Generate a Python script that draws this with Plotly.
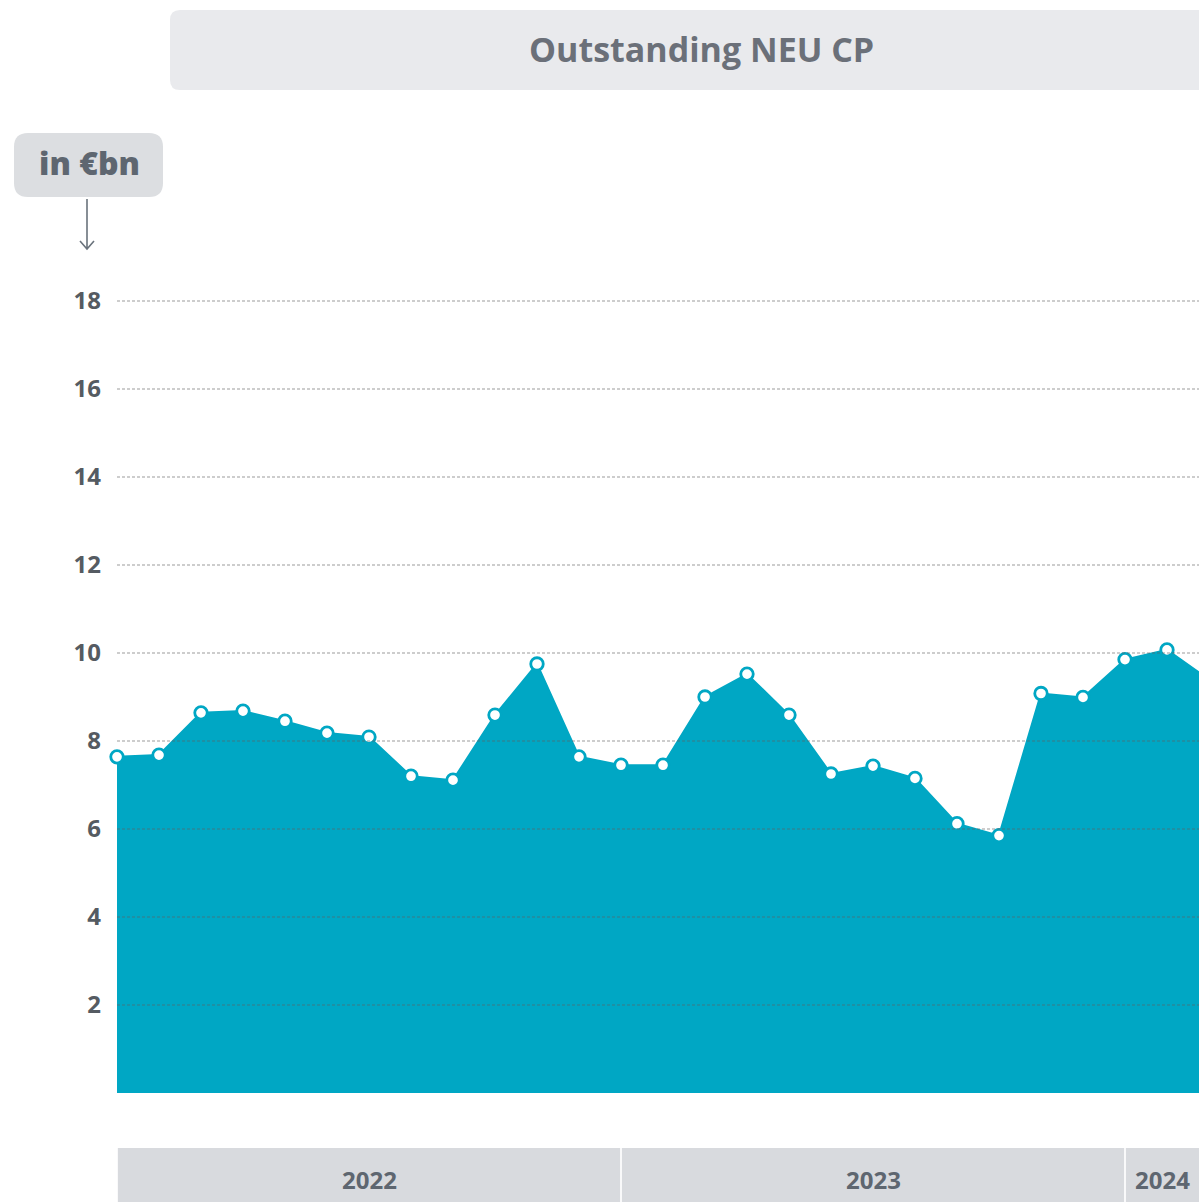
import plotly.graph_objects as go

# ---------------- data ----------------
months = ["2022-01", "2022-02", "2022-03", "2022-04", "2022-05", "2022-06",
          "2022-07", "2022-08", "2022-09", "2022-10", "2022-11", "2022-12",
          "2023-01", "2023-02", "2023-03", "2023-04", "2023-05", "2023-06",
          "2023-07", "2023-08", "2023-09", "2023-10", "2023-11", "2023-12",
          "2024-01", "2024-02", "2024-03"]
outstanding = [7.64, 7.68, 8.64, 8.68, 8.45, 8.18, 8.09, 7.20, 7.11, 8.59, 9.75, 7.64,
               7.45, 7.45, 9.00, 9.52, 8.59, 7.25, 7.43, 7.15, 6.12, 5.85, 9.08, 8.99,
               9.85, 10.07, 9.40]
years = ["2022", "2023", "2024"]
y_ticks = [2, 4, 6, 8, 10, 12, 14, 16, 18]

TEAL = "#00A7C4"
TEXT = "#5E6670"
FONT = "Open Sans"

W, H = 1199, 1202
# plot area in pixels
REF_L, REF_R, REF_T, REF_B = 117, W, 257, 1093
L, T = REF_L, REF_T
R = W - REF_R
B = H - REF_B
PW, PH = W - L - R, H - T - B
X_MAX = PW / 42.0  # 42 px per month
Y_MAX = PH / 44.0  # 44 px per unit


def px_x(p):  # pixel -> paper
    return (p - REF_L) / PW


def px_y(p):
    return (REF_B - p) / PH


def rounded_rect(x0, y0, x1, y1, r):
    def P(x, y):
        return f"{px_x(x):.5f},{px_y(y):.5f}"
    return (f"M {P(x0 + r, y0)} L {P(x1 - r, y0)} Q {P(x1, y0)} {P(x1, y0 + r)} "
            f"L {P(x1, y1 - r)} Q {P(x1, y1)} {P(x1 - r, y1)} "
            f"L {P(x0 + r, y1)} Q {P(x0, y1)} {P(x0, y1 - r)} "
            f"L {P(x0, y0 + r)} Q {P(x0, y0)} {P(x0 + r, y0)} Z")


x_idx = list(range(len(months)))

fig = go.Figure()
fig.add_trace(go.Scatter(
    x=x_idx, y=outstanding, mode="lines+markers",
    fill="tozeroy", fillcolor=TEAL,
    line=dict(color=TEAL, width=2),
    marker=dict(size=12.5, color="white", line=dict(color=TEAL, width=2.8)),
    cliponaxis=False, hoverinfo="x+y", showlegend=False,
))

shapes = []
for v in y_ticks:
    shapes.append(dict(type="line", xref="paper", yref="y", x0=0, x1=1, y0=v, y1=v,
                       line=dict(color="rgba(95,95,95,0.42)", width=1.6, dash="3px,2px"),
                       layer="above"))
for i, yr in enumerate(years):
    x0 = i * 12
    x1 = (i + 1) * 12
    shapes.append(dict(type="rect", xref="x", yref="paper",
                       x0=x0 + 0.02, x1=x1 - 0.02,
                       y0=px_y(1210), y1=px_y(1148),
                       fillcolor="#D8DADE", line=dict(width=0), layer="below"))
shapes.append(dict(type="path", xref="paper", yref="paper",
                   path=rounded_rect(170, 10, 1215, 90, 10),
                   fillcolor="#E9EAED", line=dict(width=0), layer="below"))
shapes.append(dict(type="path", xref="paper", yref="paper",
                   path=rounded_rect(14, 133, 163, 197, 14),
                   fillcolor="#DCDEE1", line=dict(width=0), layer="below"))
shapes.append(dict(type="path", xref="paper", yref="paper",
                   path=(f"M {px_x(87)},{px_y(199)} L {px_x(87)},{px_y(249)} "
                         f"M {px_x(80)},{px_y(241)} L {px_x(87)},{px_y(249)} L {px_x(94)},{px_y(241)}"),
                   line=dict(color="#6A737C", width=1.6)))

annotations = [
    dict(text="Outstanding NEU CP", xref="paper", yref="paper",
         x=px_x(701), y=px_y(49), showarrow=False, xanchor="center", yanchor="middle",
         font=dict(family=FONT, size=34, color="#6B7079", weight=700)),
    dict(text="in €bn", xref="paper", yref="paper",
         x=px_x(89), y=px_y(163), showarrow=False, xanchor="center", yanchor="middle",
         font=dict(family=FONT, size=32, color=TEXT, weight=800)),
]
for i, yr in enumerate(years):
    x0 = i * 12
    x1 = min((i + 1) * 12, X_MAX)
    annotations.append(dict(text=yr, xref="x", yref="paper",
                            x=(x0 + x1) / 2, y=px_y(1179), showarrow=False,
                            xanchor="center", yanchor="middle",
                            font=dict(family=FONT, size=24, color=TEXT, weight=700)))

fig.update_layout(
    width=W, height=H,
    margin=dict(l=L, r=R, t=T, b=B, pad=0),
    paper_bgcolor="white", plot_bgcolor="white",
    shapes=shapes, annotations=annotations,
    xaxis=dict(range=[0, X_MAX], showgrid=False, zeroline=False,
               showticklabels=False, showline=False, ticks=""),
    yaxis=dict(range=[0, Y_MAX], tickvals=y_ticks, showgrid=False, zeroline=False,
               showline=False, ticks="", ticklabelstandoff=15,
               tickfont=dict(family=FONT, size=24, color="#555B62", weight=700)),
    font=dict(family=FONT),
)

fig.write_html(
    "out.html",
    config={"displayModeBar": False},
    post_script=("document.body.style.margin='0';"
                 "document.documentElement.style.overflow='hidden';"
                 "document.body.style.overflow='hidden';"),
)
